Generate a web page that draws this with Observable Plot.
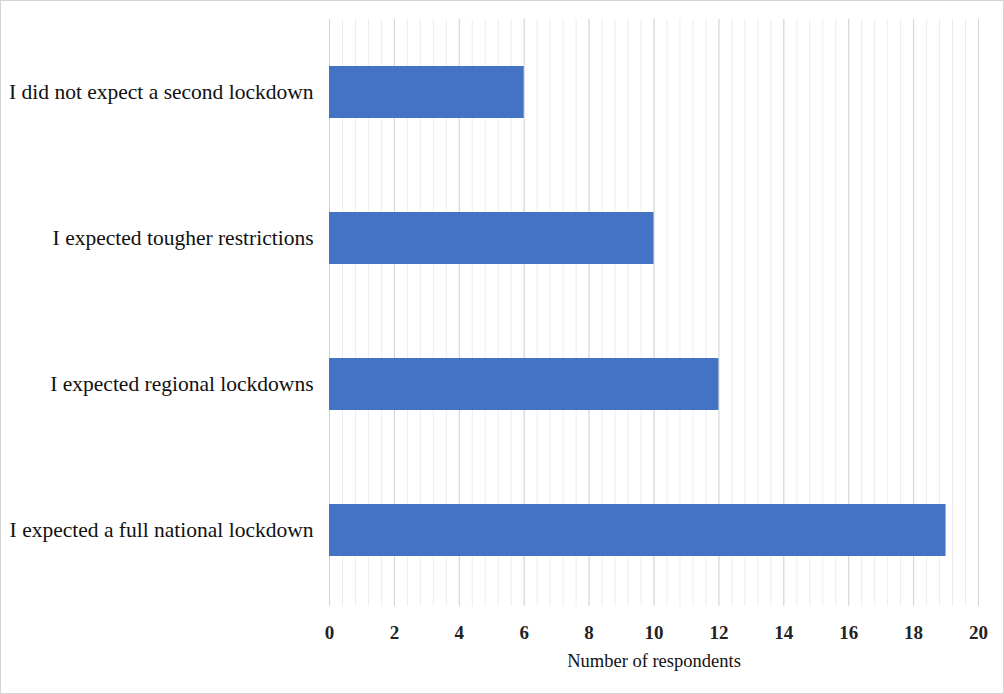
<!DOCTYPE html>
<html>
<head>
<meta charset="utf-8">
<script src="https://cdn.jsdelivr.net/npm/d3@7"></script>
<script src="https://cdn.jsdelivr.net/npm/@observablehq/plot@0.6"></script>
<style>
  html, body { margin: 0; padding: 0; background: #fff; }
  #chart svg { display: block; outline: 1px solid #d4d4d4; outline-offset: -1px; font-family: "Liberation Serif", "DejaVu Serif", serif !important; }
  #chart svg text { font-family: "Liberation Serif", "DejaVu Serif", serif !important; }
</style>
</head>
<body>
<div id="chart"></div>
<script>
const categories = [
  "I did not expect a second lockdown",
  "I expected tougher restrictions",
  "I expected regional lockdowns",
  "I expected a full national lockdown"
];
const respondents = [6, 10, 12, 19];
const majorTicks = [0, 2, 4, 6, 8, 10, 12, 14, 16, 18, 20];
const minorTicks = d3.range(0, 20.001, 0.4).map(v => +v.toFixed(1));
const xTitle = "Number of respondents";

const data = categories.map((c, i) => ({category: c, value: respondents[i]}));

const chart = Plot.plot({
  width: 1004,
  height: 694,
  marginLeft: 329,
  marginRight: 26,
  marginTop: 19,
  marginBottom: 91,
  style: {background: "#fff"},
  x: {domain: [0, 20]},
  y: {domain: categories, padding: 0},
  marks: [
    Plot.ruleX(minorTicks, {x: d => d, stroke: "#ededed", strokeWidth: 1, insetBottom: -3}),
    Plot.ruleX(majorTicks, {x: d => d, stroke: "#d4d4d4", strokeWidth: 1, insetBottom: -3}),
    Plot.barX(data, {x: "value", y: "category", fill: "#4472C4", insetTop: 47, insetBottom: 47}),
    Plot.axisX({ticks: majorTicks, tickSize: 0, tickPadding: 22, fontSize: 19, fontWeight: "bold", fill: "#222", label: null}),
    Plot.text([xTitle], {frameAnchor: "bottom", dy: 63, fontSize: 18.5, fill: "#111"}),
    Plot.axisY({tickSize: 0, tickPadding: 16, fontSize: 21.5, fill: "#111", label: null})
  ]
});
document.getElementById("chart").appendChild(chart);
</script>
</body>
</html>
